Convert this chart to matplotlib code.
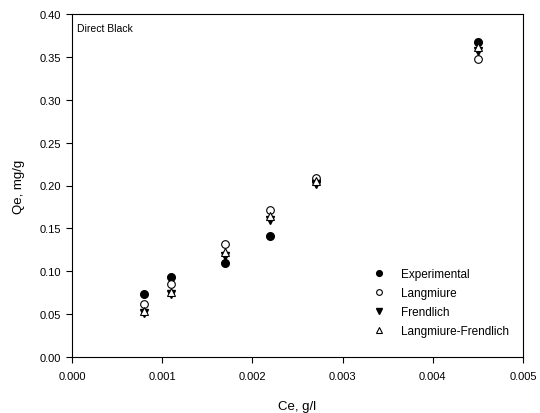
import matplotlib
matplotlib.use('Agg')
import matplotlib.pyplot as plt

plt.rcParams['font.family'] = ['Liberation Sans', 'DejaVu Sans']

# data
ce = [0.0008, 0.0011, 0.0017, 0.0022, 0.0027, 0.0045]
experimental = [0.073, 0.093, 0.110, 0.141, 0.205, 0.367]
langmiure = [0.062, 0.085, 0.132, 0.171, 0.209, 0.348]
frendlich = [0.051, 0.073, 0.118, 0.160, 0.202, 0.357]
lang_frend = [0.054, 0.076, 0.123, 0.164, 0.205, 0.361]

xticks = [0.000, 0.001, 0.002, 0.003, 0.004, 0.005]
yticks = [0.00, 0.05, 0.10, 0.15, 0.20, 0.25, 0.30, 0.35, 0.40]

fig = plt.figure(figsize=(5.4, 4.14), dpi=100)
# axes box in pixels: x 72..523, y 15..358
ax = fig.add_axes([72 / 540, 1 - 358 / 414, (523 - 72) / 540, (358 - 15) / 414])

ms = 5.5
ax.plot(ce, experimental, 'o', color='black', ms=ms, label='Experimental')
ax.plot(ce, langmiure, 'o', mfc='white', mec='black', mew=0.8, ms=ms, label='Langmiure')
ax.plot(ce, frendlich, 'v', color='black', ms=ms, label='Frendlich')
ax.plot(ce, lang_frend, '^', mfc='white', mec='black', mew=0.8, ms=ms, label='Langmiure-Frendlich')

ax.set_xlim(0, 0.005)
ax.set_ylim(0, 0.40)
ax.set_xticks(xticks)
ax.set_xticklabels(['%.3f' % v for v in xticks])
ax.set_yticks(yticks)
ax.set_yticklabels(['%.2f' % v for v in yticks])
ax.tick_params(direction='out', length=4, width=0.8, labelsize=8, pad=4)
ax.tick_params(axis='x', pad=6)
for s in ax.spines.values():
    s.set_linewidth(0.8)

ax.set_xlabel('Ce, g/l', fontsize=9.5, labelpad=14)
ax.set_ylabel('Qe, mg/g', fontsize=9.5, labelpad=10)
ax.text(0.012, 0.975, 'Direct Black', transform=ax.transAxes, fontsize=7.5, va='top', ha='left')

ax.legend(loc='upper left', bbox_to_anchor=(0.665, 0.26), frameon=False, fontsize=8.5,
          handletextpad=1.3, labelspacing=0.6, handlelength=1.2, markerscale=0.75,
          borderpad=0, borderaxespad=0)

fig.savefig('out.png', dpi=100)
